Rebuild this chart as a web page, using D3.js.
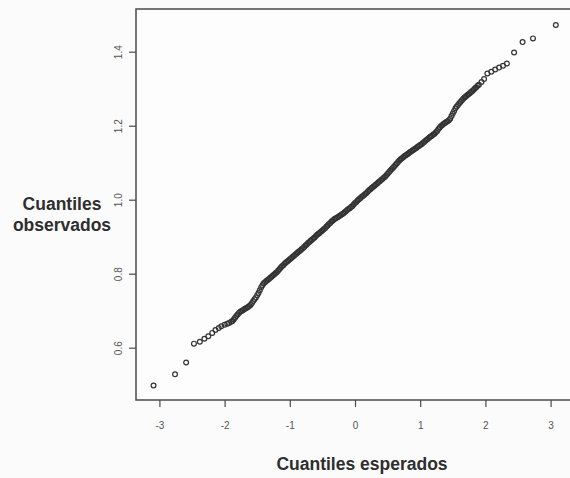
<!DOCTYPE html>
<meta charset="utf-8">
<style>

body {
  margin: 0;
  background: #fbfbfc;
}

.tick-label {
  font: 10px "Liberation Sans", Arial, sans-serif;
  fill: #555;
}

.axis-title {
  font: bold 17.5px "Liberation Sans", Arial, sans-serif;
  fill: #2e2e2e;
}

.dot {
  fill: none;
  stroke: #333;
  stroke-width: 1.2;
}

</style>
<body>
  <svg width="570" height="478"></svg>

  <script src="https://d3js.org/d3.v7.min.js"></script>
  <script>

  var lowerTail = [
    [-3.09, 0.498], [-2.76, 0.528], [-2.59, 0.560], [-2.47, 0.611], [-2.38, 0.616],
    [-2.31, 0.624], [-2.25, 0.631], [-2.19, 0.640], [-2.14, 0.648], [-2.09, 0.653],
    [-2.05, 0.658], [-2.00, 0.662], [-1.96, 0.665], [-1.93, 0.667]
  ];

  var body = [
    [-1.90, 0.670], [-1.88, 0.672], [-1.86, 0.676], [-1.84, 0.681], [-1.82, 0.686],
    [-1.80, 0.690], [-1.78, 0.694], [-1.76, 0.697], [-1.74, 0.699], [-1.72, 0.701],
    [-1.70, 0.704], [-1.68, 0.706], [-1.66, 0.708], [-1.64, 0.710], [-1.62, 0.713],
    [-1.60, 0.716], [-1.58, 0.721], [-1.56, 0.726], [-1.54, 0.731], [-1.52, 0.736],
    [-1.50, 0.742], [-1.48, 0.748], [-1.46, 0.755], [-1.44, 0.763], [-1.42, 0.769],
    [-1.40, 0.774], [-1.38, 0.777], [-1.36, 0.780], [-1.34, 0.783], [-1.32, 0.786],
    [-1.30, 0.789], [-1.28, 0.792], [-1.26, 0.795], [-1.24, 0.798], [-1.22, 0.801],
    [-1.20, 0.804], [-1.18, 0.808], [-1.16, 0.812], [-1.14, 0.816], [-1.12, 0.820],
    [-1.10, 0.823], [-1.08, 0.827], [-1.06, 0.830], [-1.04, 0.833], [-1.02, 0.836],
    [-1.00, 0.839], [-0.98, 0.842], [-0.96, 0.845], [-0.94, 0.848], [-0.92, 0.851],
    [-0.90, 0.854], [-0.88, 0.857], [-0.86, 0.860], [-0.84, 0.863], [-0.82, 0.866],
    [-0.80, 0.869], [-0.78, 0.872], [-0.76, 0.876], [-0.74, 0.879], [-0.72, 0.883],
    [-0.70, 0.886], [-0.68, 0.889], [-0.66, 0.892], [-0.64, 0.895], [-0.62, 0.898],
    [-0.60, 0.902], [-0.58, 0.905], [-0.56, 0.908], [-0.54, 0.911], [-0.52, 0.914],
    [-0.50, 0.917], [-0.48, 0.920], [-0.46, 0.923], [-0.44, 0.927], [-0.42, 0.930],
    [-0.40, 0.934], [-0.38, 0.937], [-0.36, 0.941], [-0.34, 0.944], [-0.32, 0.947],
    [-0.30, 0.949], [-0.28, 0.951], [-0.26, 0.953], [-0.24, 0.956], [-0.22, 0.958],
    [-0.20, 0.961], [-0.18, 0.963], [-0.16, 0.966], [-0.14, 0.969], [-0.12, 0.972],
    [-0.10, 0.975], [-0.08, 0.977], [-0.06, 0.980], [-0.04, 0.983], [-0.02, 0.987],
    [0.00, 0.991], [0.02, 0.994], [0.04, 0.998], [0.06, 1.001], [0.08, 1.004],
    [0.10, 1.007], [0.12, 1.010], [0.14, 1.013], [0.16, 1.016], [0.18, 1.019],
    [0.20, 1.023], [0.22, 1.026], [0.24, 1.029], [0.26, 1.032], [0.28, 1.035],
    [0.30, 1.038], [0.32, 1.041], [0.34, 1.044], [0.36, 1.047], [0.38, 1.050],
    [0.40, 1.053], [0.42, 1.056], [0.44, 1.059], [0.46, 1.062], [0.48, 1.066],
    [0.50, 1.070], [0.52, 1.074], [0.54, 1.078], [0.56, 1.082], [0.58, 1.086],
    [0.60, 1.090], [0.62, 1.094], [0.64, 1.098], [0.66, 1.102], [0.68, 1.106],
    [0.70, 1.109], [0.72, 1.112], [0.74, 1.115], [0.76, 1.118], [0.78, 1.120],
    [0.80, 1.123], [0.82, 1.125], [0.84, 1.128], [0.86, 1.130], [0.88, 1.133],
    [0.90, 1.135], [0.92, 1.138], [0.94, 1.140], [0.96, 1.143], [0.98, 1.145],
    [1.00, 1.148], [1.02, 1.150], [1.04, 1.153], [1.06, 1.156], [1.08, 1.159],
    [1.10, 1.162], [1.12, 1.165], [1.14, 1.168], [1.16, 1.171], [1.18, 1.173],
    [1.20, 1.176], [1.22, 1.178], [1.24, 1.182], [1.26, 1.186], [1.28, 1.191],
    [1.30, 1.195], [1.32, 1.199], [1.34, 1.202], [1.36, 1.205], [1.38, 1.207],
    [1.40, 1.210], [1.42, 1.212], [1.44, 1.215], [1.46, 1.219], [1.48, 1.226],
    [1.50, 1.233], [1.52, 1.240], [1.54, 1.247], [1.56, 1.252], [1.58, 1.256],
    [1.60, 1.261], [1.62, 1.265], [1.64, 1.269], [1.66, 1.273], [1.68, 1.276],
    [1.70, 1.279], [1.72, 1.282], [1.74, 1.285], [1.76, 1.288], [1.78, 1.291],
    [1.80, 1.294], [1.82, 1.297], [1.84, 1.301], [1.86, 1.304], [1.88, 1.308],
    [1.90, 1.311]
  ];

  var upperTail = [
    [1.94, 1.318], [1.98, 1.326], [2.03, 1.341], [2.09, 1.346], [2.15, 1.352],
    [2.21, 1.357], [2.27, 1.362], [2.33, 1.368], [2.44, 1.398], [2.57, 1.426],
    [2.73, 1.436], [3.08, 1.472]
  ];

  var xTicks = [-3, -2, -1, 0, 1, 2, 3],
      yTicks = [0.6, 0.8, 1.0, 1.2, 1.4];

  var xTitle = "Cuantiles esperados",
      yTitle = ["Cuantiles", "observados"];

  var svg = d3.select("svg"),
      box = {left: 136, top: 9, right: 572, bottom: 400};

  var x = d3.scaleLinear().domain([-3, 3]).range([159.4, 550.6]),
      y = d3.scaleLinear().domain([0.6, 1.4]).range([347.7, 51.7]);

  var points = lowerTail.concat(body, upperTail);

  // plot frame (right side falls just outside the picture)
  svg.append("rect")
      .attr("x", box.left)
      .attr("y", box.top)
      .attr("width", box.right - box.left)
      .attr("height", box.bottom - box.top)
      .attr("fill", "#fdfdfd")
      .attr("stroke", "#4a4a4a")
      .attr("stroke-width", 1.5);

  // x axis ticks
  var xAxis = svg.append("g")
      .attr("transform", "translate(0," + box.bottom + ")")
      .call(d3.axisBottom(x).tickValues(xTicks).tickSize(7).tickPadding(15)
        .tickFormat(function(d) { return String(d); }));
  xAxis.select(".domain").remove();
  xAxis.selectAll(".tick line").attr("stroke", "#4a4a4a").attr("stroke-width", 1.2);
  xAxis.selectAll(".tick text").attr("class", "tick-label").attr("font-size", null)
      .attr("font-family", null).attr("fill", null);

  // y axis ticks, labels turned like R does
  var yAxis = svg.append("g")
      .attr("transform", "translate(" + box.left + ",0)")
      .call(d3.axisLeft(y).tickValues(yTicks).tickSize(7).tickFormat(d3.format(".1f")));
  yAxis.select(".domain").remove();
  yAxis.selectAll(".tick line").attr("stroke", "#4a4a4a").attr("stroke-width", 1.2);
  yAxis.selectAll(".tick text")
      .attr("class", "tick-label")
      .attr("font-size", null).attr("font-family", null).attr("fill", null)
      .attr("x", null)
      .attr("text-anchor", "middle")
      .attr("transform", "translate(-18,0) rotate(-90)")
      .attr("y", 0)
      .attr("dy", "0.35em");

  // points
  svg.append("g")
    .selectAll("circle")
    .data(points)
    .enter().append("circle")
      .attr("class", "dot")
      .attr("cx", function(d) { return x(d[0]); })
      .attr("cy", function(d) { return y(d[1]); })
      .attr("r", 2.4);

  // axis titles
  svg.append("text")
      .attr("class", "axis-title")
      .attr("x", 362)
      .attr("y", 470)
      .attr("text-anchor", "middle")
      .text(xTitle);

  svg.append("text")
      .attr("class", "axis-title")
      .attr("text-anchor", "middle")
    .selectAll("tspan")
    .data(yTitle)
    .enter().append("tspan")
      .attr("x", 62)
      .attr("y", function(d, i) { return 210 + i * 21; })
      .text(function(d) { return d; });

  </script>
</body>
